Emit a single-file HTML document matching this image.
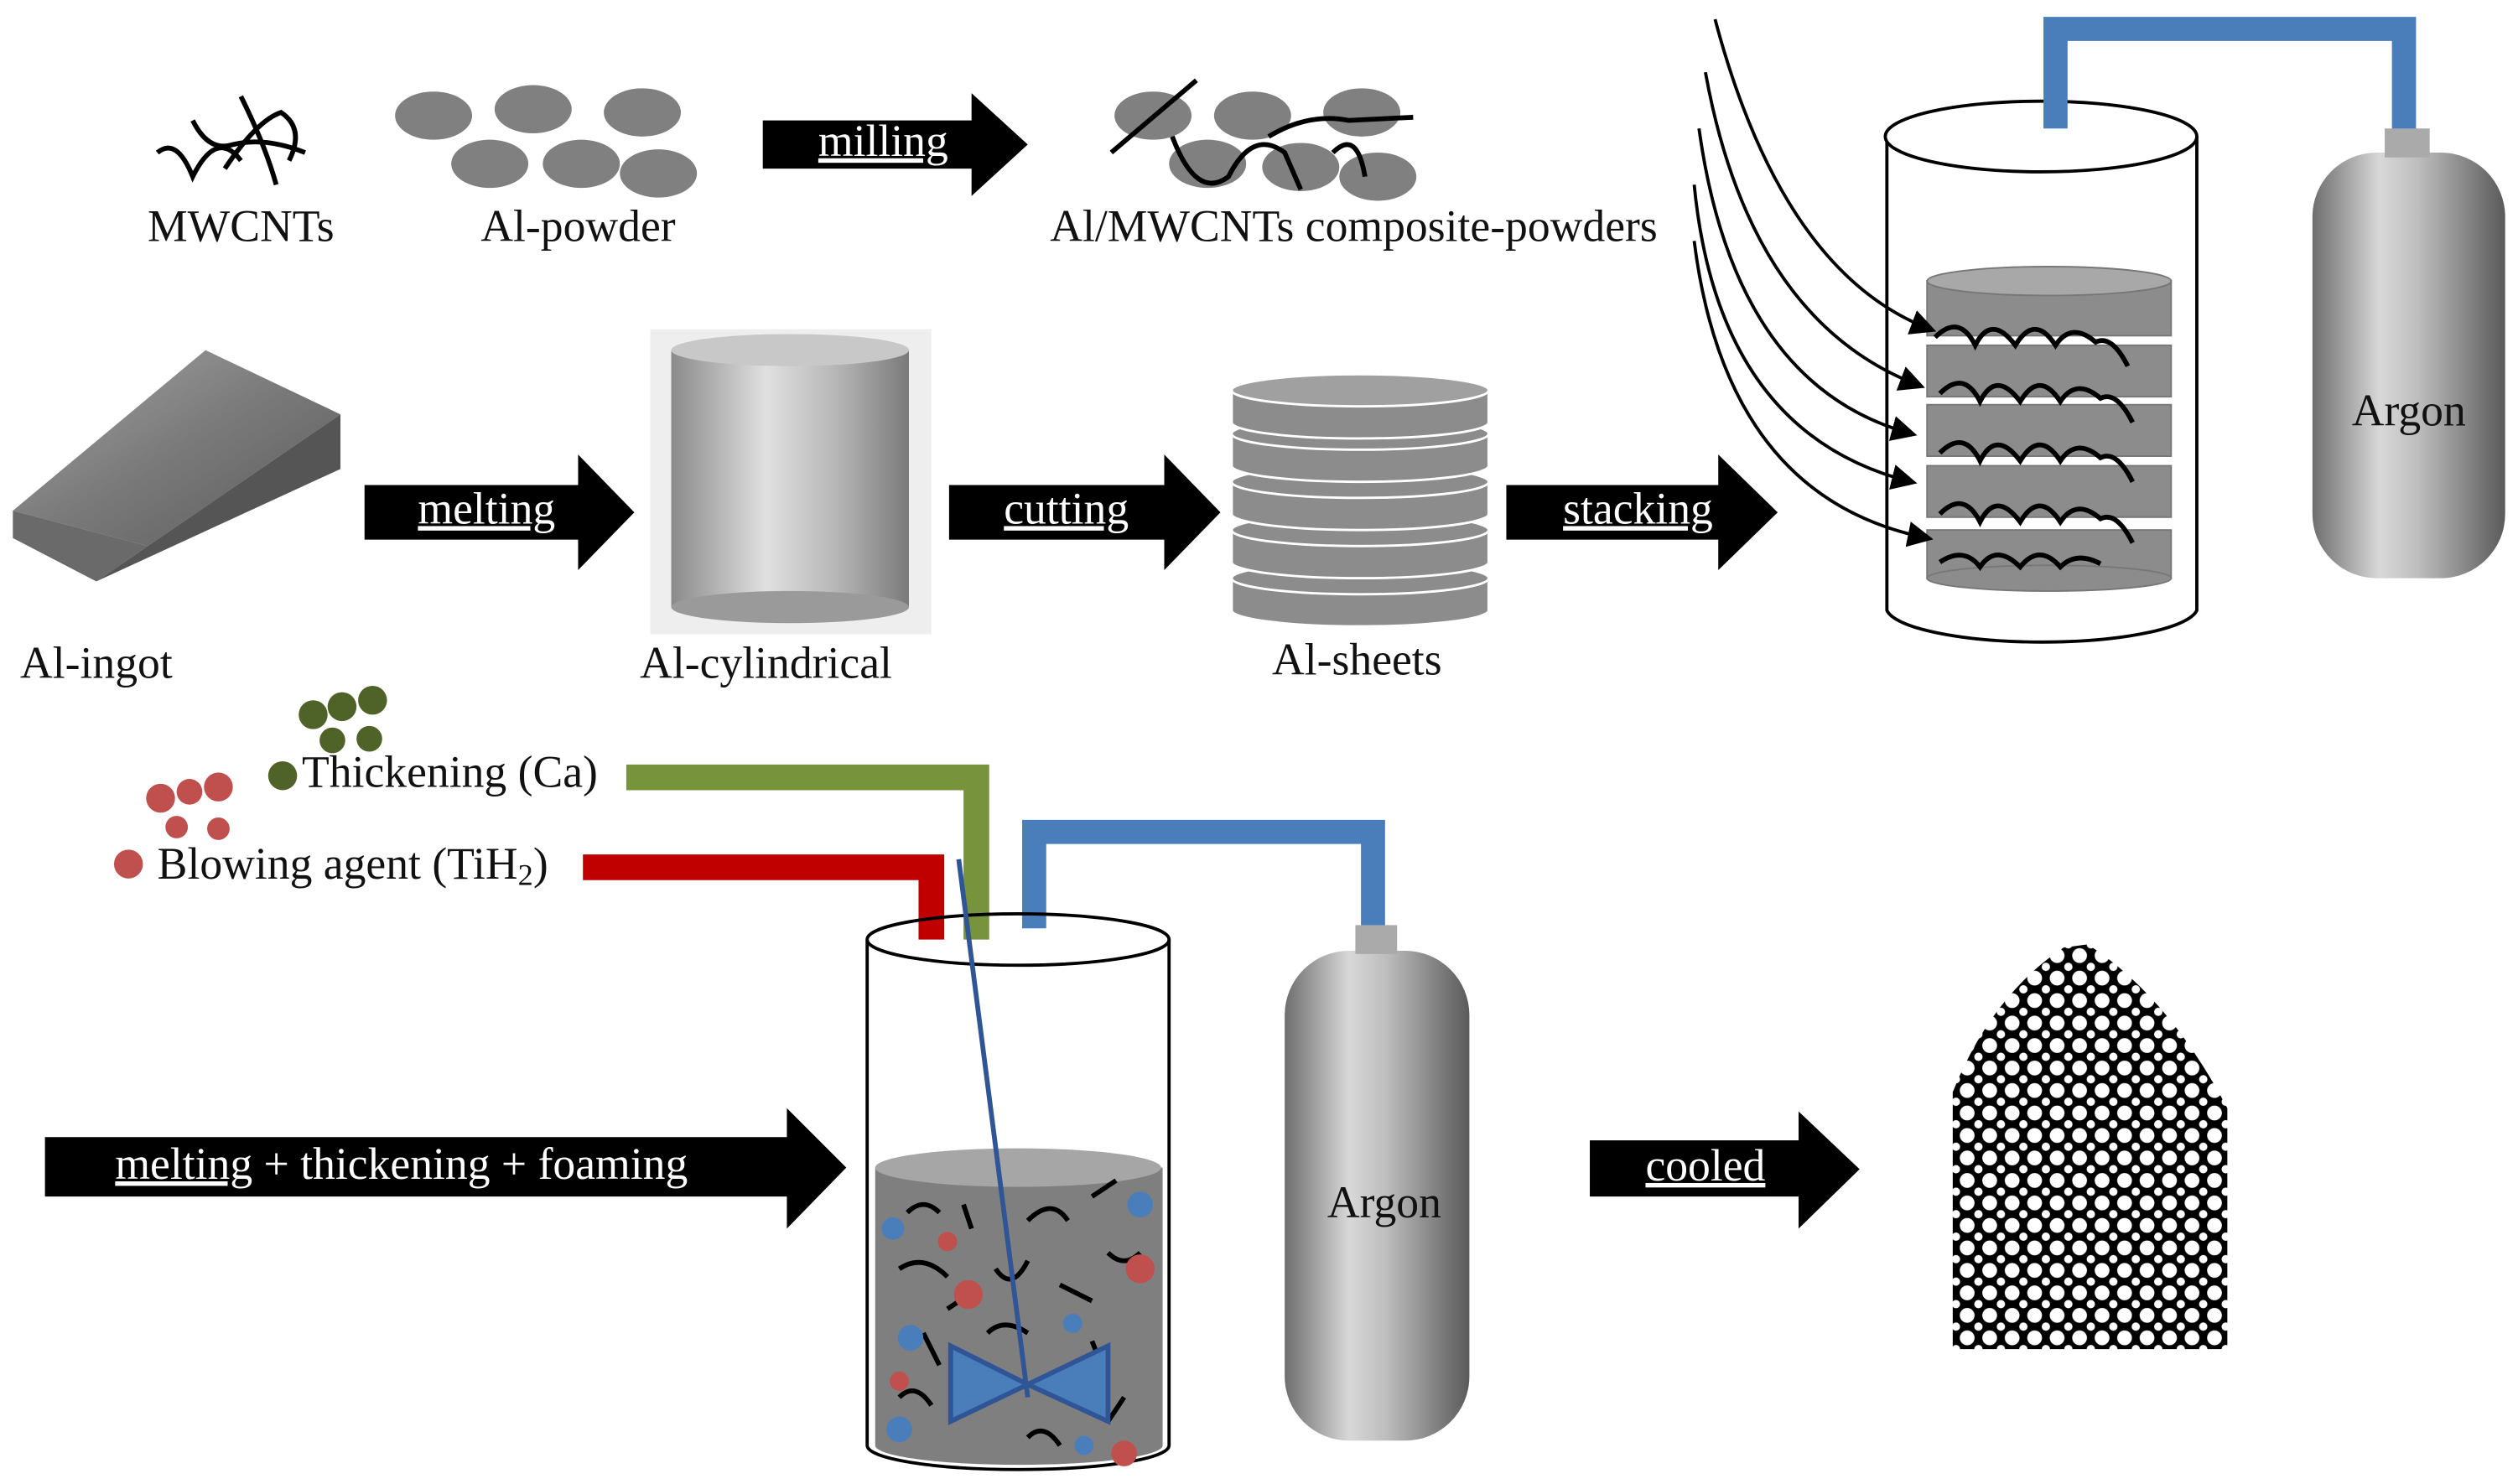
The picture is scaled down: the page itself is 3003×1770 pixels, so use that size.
<!DOCTYPE html>
<html><head><meta charset="utf-8"><style>
html,body{margin:0;padding:0;background:#fff}
svg{display:block}
text{font-family:"Liberation Serif",serif;font-size:28px;fill:#111}
.w{fill:#fff;text-decoration:underline}
</style></head><body>
<svg width="3003" height="1770" viewBox="0 0 1568 924" preserveAspectRatio="none" xmlns="http://www.w3.org/2000/svg">
<defs>
<linearGradient id="tank" x1="0" x2="1"><stop offset="0" stop-color="#6e6e6e"/><stop offset="0.35" stop-color="#d8d8d8"/><stop offset="0.55" stop-color="#bdbdbd"/><stop offset="1" stop-color="#5a5a5a"/></linearGradient>
<linearGradient id="cyl" x1="0" x2="1"><stop offset="0" stop-color="#8a8a8a"/><stop offset="0.4" stop-color="#e0e0e0"/><stop offset="0.7" stop-color="#b5b5b5"/><stop offset="1" stop-color="#7a7a7a"/></linearGradient>
<linearGradient id="ingot" x1="0" y1="0" x2="1" y2="1"><stop offset="0" stop-color="#a5a5a5"/><stop offset="0.5" stop-color="#7a7a7a"/><stop offset="1" stop-color="#5a5a5a"/></linearGradient>
<pattern id="foam" width="14" height="14" patternUnits="userSpaceOnUse">
<rect width="14" height="14" fill="#000"/><circle cx="7" cy="7" r="4.6" fill="#fff"/><circle cx="0" cy="0" r="2.6" fill="#fff"/><circle cx="14" cy="14" r="2.6" fill="#fff"/><circle cx="14" cy="0" r="2.6" fill="#fff"/><circle cx="0" cy="14" r="2.6" fill="#fff"/>
</pattern>
<marker id="ah" markerWidth="8" markerHeight="8" refX="6" refY="4" orient="auto"><path d="M0,0 L8,4 L0,8 Z" fill="#000"/></marker>
</defs>

<g stroke="#000" stroke-width="3" fill="none">
<path d="M98,95 Q110,85 120,110 Q135,80 150,100"/><path d="M120,75 Q130,95 145,90 Q165,85 190,95"/><path d="M150,60 Q165,90 172,115"/><path d="M140,105 Q160,75 175,70 Q190,80 180,100"/>
</g>
<text x="150" y="150" text-anchor="middle">MWCNTs</text>
<g fill="#808080"><ellipse cx="270" cy="72" rx="24" ry="15"/><ellipse cx="332" cy="68" rx="24" ry="15"/><ellipse cx="400" cy="70" rx="24" ry="15"/><ellipse cx="305" cy="102" rx="24" ry="15"/><ellipse cx="362" cy="102" rx="24" ry="15"/><ellipse cx="410" cy="108" rx="24" ry="15"/></g>
<text x="360" y="150" text-anchor="middle">Al-powder</text>
<path d="M475,75 H605 V58 L640,90 L605,122 V105 H475 Z" fill="#000"/><text class="w" x="550" y="97" text-anchor="middle">milling</text>
<g fill="#808080"><ellipse cx="718" cy="72" rx="24" ry="15"/><ellipse cx="780" cy="72" rx="24" ry="15"/><ellipse cx="848" cy="70" rx="24" ry="15"/><ellipse cx="752" cy="102" rx="24" ry="15"/><ellipse cx="810" cy="104" rx="24" ry="15"/><ellipse cx="858" cy="110" rx="24" ry="15"/></g>
<g stroke="#000" stroke-width="3" fill="none"><path d="M692,95 L745,50"/><path d="M730,85 Q745,125 765,110 Q780,80 800,95 L810,118"/><path d="M790,85 Q815,70 840,75 L880,73"/><path d="M830,95 Q845,80 850,110"/></g>
<text x="843" y="150" text-anchor="middle">Al/MWCNTs composite-powders</text>

<path d="M1175,85 V380 A97,22 0 0 0 1368,380 V85" fill="#fff" stroke="#000" stroke-width="2"/>
<ellipse cx="1271" cy="85" rx="97" ry="22" fill="#fff" stroke="#000" stroke-width="2"/>
<g fill="#8c8c8c" stroke="#777">
<rect x="1200" y="330" width="152" height="30"/><ellipse cx="1276" cy="360" rx="76" ry="8"/>
<rect x="1200" y="290" width="152" height="32"/>
<rect x="1200" y="252" width="152" height="32"/>
<rect x="1200" y="215" width="152" height="32"/>
<rect x="1200" y="175" width="152" height="34"/><ellipse cx="1276" cy="175" rx="76" ry="9" fill="#a8a8a8"/>
</g>
<g stroke="#000" stroke-width="3" fill="none">
<path d="M1205,210 q15,-15 25,5 q10,-20 25,0 q12,-20 25,0 q10,-15 25,-2 q10,-5 20,15"/>
<path d="M1208,245 q15,-15 25,5 q10,-20 25,0 q12,-20 25,0 q10,-15 25,-2 q10,-5 20,15"/>
<path d="M1208,282 q15,-15 25,5 q10,-20 25,0 q12,-20 25,0 q10,-15 25,-2 q10,-5 20,15"/>
<path d="M1208,320 q15,-15 25,5 q10,-20 25,0 q12,-20 25,0 q10,-15 25,-2 q10,-5 20,15"/>
<path d="M1208,350 q15,-10 25,3 q10,-15 25,0 q12,-15 25,0 q10,-10 25,-2"/>
</g>
<g stroke="#000" stroke-width="2" fill="none" marker-end="url(#ah)">
<path d="M1068,12 Q1110,170 1202,205"/><path d="M1062,45 Q1090,200 1195,240"/><path d="M1058,80 Q1080,240 1190,270"/><path d="M1055,115 Q1070,270 1190,300"/><path d="M1055,150 Q1075,310 1200,335"/>
</g>
<path d="M1280,80 V18 H1497 V85" fill="none" stroke="#4a7ebb" stroke-width="15"/>
<rect x="1440" y="95" width="120" height="265" rx="40" fill="url(#tank)"/><rect x="1485" y="80" width="28" height="18" fill="#aaa"/>
<text x="1500" y="265" text-anchor="middle">Argon</text>

<path d="M8,318 L128,218 L212,258 L92,340 Z" fill="url(#ingot)"/>
<path d="M8,318 L92,340 L60,362 L8,335 Z" fill="#6a6a6a"/>
<path d="M92,340 L212,258 L212,292 L60,362 Z" fill="#555"/>
<text x="60" y="422" text-anchor="middle">Al-ingot</text>
<path d="M227,302 H360 V283 L395,319 L360,355 V336 H227 Z" fill="#000"/><text class="w" x="303" y="326" text-anchor="middle">melting</text>
<rect x="405" y="205" width="175" height="190" fill="#eeeeee"/>
<rect x="418" y="218" width="148" height="160" fill="url(#cyl)"/><ellipse cx="492" cy="218" rx="74" ry="10" fill="#c8c8c8"/><ellipse cx="492" cy="378" rx="74" ry="10" fill="#9a9a9a"/>
<text x="477" y="422" text-anchor="middle">Al-cylindrical</text>
<path d="M591,302 H725 V283 L760,319 L725,355 V336 H591 Z" fill="#000"/><text class="w" x="664" y="326" text-anchor="middle">cutting</text>
<g fill="#8c8c8c" stroke="#fff" stroke-width="1.5">
<path d="M767,360 v20 a80,10 0 0 0 160,0 v-20 z"/><ellipse cx="847" cy="360" rx="80" ry="10"/>
<path d="M767,330 v20 a80,10 0 0 0 160,0 v-20 z"/><ellipse cx="847" cy="330" rx="80" ry="10"/>
<path d="M767,300 v20 a80,10 0 0 0 160,0 v-20 z"/><ellipse cx="847" cy="300" rx="80" ry="10"/>
<path d="M767,270 v20 a80,10 0 0 0 160,0 v-20 z"/><ellipse cx="847" cy="270" rx="80" ry="10"/>
<path d="M767,243 v20 a80,10 0 0 0 160,0 v-20 z"/><ellipse cx="847" cy="243" rx="80" ry="10" fill="#a0a0a0"/>
</g>
<text x="845" y="420" text-anchor="middle">Al-sheets</text>
<path d="M938,302 H1070 V283 L1107,319 L1070,355 V336 H938 Z" fill="#000"/><text class="w" x="1020" y="326" text-anchor="middle">stacking</text>

<g fill="#4f6228"><circle cx="195" cy="445" r="9"/><circle cx="213" cy="440" r="9"/><circle cx="232" cy="436" r="9"/><circle cx="207" cy="461" r="8"/><circle cx="230" cy="460" r="8"/><circle cx="176" cy="483" r="9"/></g>
<text x="188" y="490">Thickening (Ca)</text>
<g fill="#c0504d"><circle cx="100" cy="497" r="9"/><circle cx="118" cy="493" r="8"/><circle cx="136" cy="490" r="9"/><circle cx="110" cy="515" r="7"/><circle cx="136" cy="516" r="7"/><circle cx="80" cy="538" r="9"/></g>
<text x="98" y="547">Blowing agent (TiH<tspan font-size="19" dy="4">2</tspan><tspan dy="-4">)</tspan></text>
<path d="M363,540 H580 V588" fill="none" stroke="#c00000" stroke-width="16"/>
<path d="M390,484 H608 V595" fill="none" stroke="#77933c" stroke-width="16"/>
<path d="M644,578 V518 H855 V578" fill="none" stroke="#4a7ebb" stroke-width="15"/>
<path d="M540,585 V900 A94,15 0 0 0 728,900 V585" fill="#fff" stroke="#000" stroke-width="2"/>
<ellipse cx="634" cy="585" rx="94" ry="16" fill="none" stroke="#000" stroke-width="2"/>
<path d="M545,727 V900 A89,12 0 0 0 724,900 V727 Z" fill="#7f7f7f"/><ellipse cx="634" cy="727" rx="89" ry="12" fill="#a6a6a6"/>
<g stroke="#000" stroke-width="3" fill="none">
<path d="M565,755 q10,-10 20,0"/><path d="M600,750 l5,15"/><path d="M640,760 q15,-15 25,0"/><path d="M680,745 l15,-10"/><path d="M560,790 q15,-10 30,5"/><path d="M620,790 q10,15 20,-5"/><path d="M660,800 l20,10"/><path d="M690,780 q10,10 20,0"/><path d="M575,830 l10,20"/><path d="M615,830 q10,-10 25,0"/><path d="M680,835 l10,25"/><path d="M560,870 q10,-10 20,5"/><path d="M640,895 q10,-10 20,5"/><path d="M700,870 l-10,15"/><path d="M590,815 l15,-10"/>
</g>
<g fill="#4a7ebb"><circle cx="556" cy="765" r="7"/><circle cx="710" cy="750" r="8"/><circle cx="567" cy="833" r="8"/><circle cx="668" cy="824" r="6"/><circle cx="560" cy="890" r="8"/><circle cx="675" cy="900" r="6"/></g>
<g fill="#c0504d"><circle cx="590" cy="773" r="6"/><circle cx="603" cy="806" r="9"/><circle cx="710" cy="790" r="9"/><circle cx="560" cy="860" r="6"/><circle cx="700" cy="905" r="8"/></g>
<line x1="597" y1="535" x2="640" y2="870" stroke="#2f5597" stroke-width="3"/>
<path d="M592,838 L640,862 L690,838 L690,885 L640,862 L592,885 Z" fill="#4a7ebb" stroke="#2f5597" stroke-width="3"/>
<rect x="800" y="592" width="115" height="305" rx="40" fill="url(#tank)"/><rect x="844" y="576" width="26" height="18" fill="#aaa"/>
<text x="862" y="758" text-anchor="middle">Argon</text>
<path d="M28,708 H490 V690 L527,727 L490,765 V745 H28 Z" fill="#000"/>
<text class="w" x="250" y="734" text-anchor="middle" style="text-decoration:none"><tspan style="text-decoration:underline">melting</tspan> + thickening  + foaming</text>
<path d="M990,710 H1120 V692 L1158,728 L1120,765 V745 H990 Z" fill="#000"/><text class="w" x="1062" y="735" text-anchor="middle">cooled</text>
<path d="M1216,840 V680 Q1240,620 1285,590 L1300,588 Q1350,620 1387,690 V840 Z" fill="url(#foam)"/>
</svg>
</body></html>
